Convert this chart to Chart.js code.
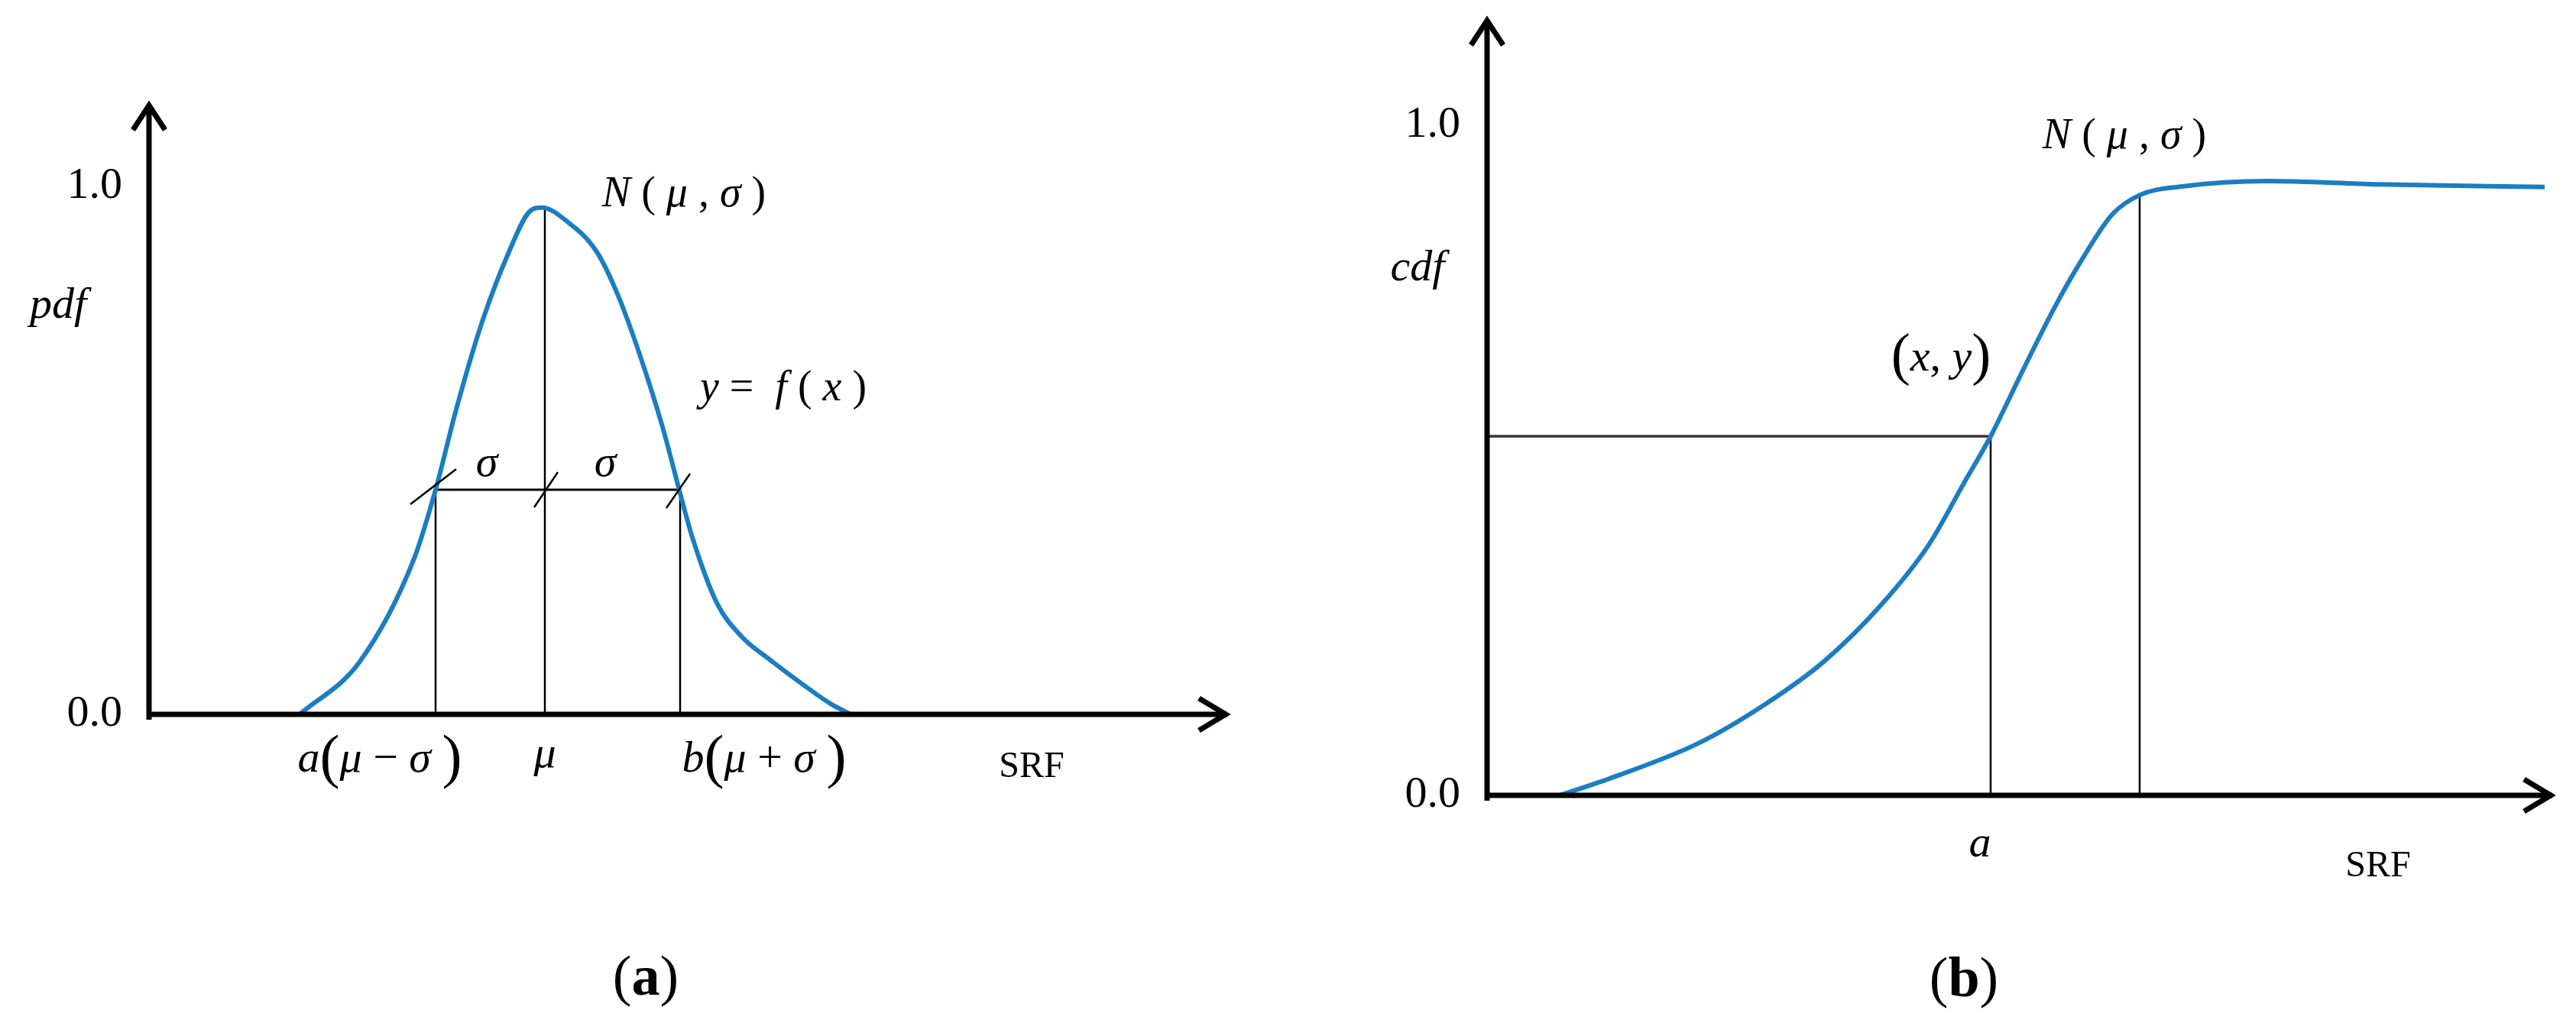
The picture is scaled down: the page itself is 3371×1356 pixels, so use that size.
<!DOCTYPE html>
<html>
<head>
<meta charset="utf-8">
<script src="https://cdn.jsdelivr.net/npm/chart.js@4.4.1/dist/chart.umd.min.js"></script>
<style>
html, body { margin: 0; padding: 0; background: #fff; }
#wrap { position: relative; width: 3371px; height: 1356px; }
canvas { position: absolute; top: 0; }
#pdfChart { left: 0; }
#cdfChart { left: 1685px; }
</style>
</head>
<body>
<div id="wrap">
  <canvas id="pdfChart" width="1685" height="1356"></canvas>
  <canvas id="cdfChart" width="1686" height="1356"></canvas>
</div>
<script>
// (a) probability density, SRF in arbitrary units
const pdfX = [1.97, 2.76, 3.47, 3.75, 4.02, 4.36, 4.71, 4.97, 5.14, 5.46, 5.86, 6.14, 6.43, 6.72, 6.94, 7.11, 7.43, 7.77, 8.12, 8.58, 8.92, 9.18];
const pdfY = [0.0, 0.10, 0.295, 0.425, 0.577, 0.743, 0.875, 0.950, 0.959, 0.934, 0.875, 0.792, 0.677, 0.544, 0.424, 0.335, 0.211, 0.145, 0.104, 0.054, 0.020, 0.0];

// (b) cumulative distribution
const cdfX = [0.95, 1.60, 2.77, 3.64, 4.41, 5.17, 5.78, 6.24, 6.59, 7.01, 7.42, 7.77, 8.18, 8.54, 9.10, 10.22, 11.65, 13.84];
const cdfY = [0.0, 0.025, 0.078, 0.136, 0.200, 0.286, 0.374, 0.466, 0.536, 0.634, 0.727, 0.797, 0.867, 0.896, 0.909, 0.917, 0.912, 0.908];

// guide lines: a, mu, b on (a); a and N on (b)
const pdfMarks = [3.75, 5.18, 6.95];
const pdfSigmaLevel = 0.425;
const pdfPeak = 0.954;
const cdfMarks = [6.59, 8.54];
const cdfLevels = [0.536, 0.896];

const yTicks = [0, 1];

const SERIF = '"Liberation Serif", "Times New Roman", serif';
const BLUE = '#1b7dc2';

function pts(xs, ys) {
  return xs.map((x, i) => ({ x: x, y: ys[i] }));
}

function curve(p) {
  return { data: p, showLine: true, borderColor: BLUE, borderWidth: 6, pointRadius: 0, cubicInterpolationMode: 'monotone' };
}

function guide(p, color, width) {
  return { data: p, showLine: true, borderColor: color, borderWidth: width, pointRadius: 0, tension: 0 };
}

// draws mixed italic / upright runs centred on (x, y)
function drawRich(ctx, x, y, parts, size) {
  let total = 0;
  const items = parts.map(p => {
    const s = size * (p[2] || 1);
    const font = (p[1] === 'i' ? 'italic ' : p[1] === 'b' ? 'bold ' : '') + s + 'px ' + SERIF;
    ctx.font = font;
    const w = ctx.measureText(p[0]).width;
    total += w;
    return { t: p[0], font: font, w: w };
  });
  let cx = x - total / 2;
  ctx.textAlign = 'left';
  ctx.textBaseline = 'middle';
  ctx.fillStyle = '#000';
  items.forEach(it => {
    ctx.font = it.font;
    ctx.fillText(it.t, cx, y);
    cx += it.w;
  });
}

const decor = {
  id: 'decor',
  afterDatasetsDraw(chart, args, opts) {
    const ctx = chart.ctx;
    const xs = chart.scales.x, ys = chart.scales.y;
    const x0 = xs.getPixelForValue(0), y0 = ys.getPixelForValue(0);
    const x1 = xs.getPixelForValue(xs.max), y1 = ys.getPixelForValue(ys.max);
    ctx.save();
    ctx.strokeStyle = '#000';
    ctx.lineWidth = 7;
    ctx.lineCap = 'butt';
    ctx.beginPath();
    ctx.moveTo(x0, y0 + 7);
    ctx.lineTo(x0, y1 + 3);
    ctx.moveTo(x0 - 3.5, y0);
    ctx.lineTo(x1 - 3, y0);
    ctx.stroke();
    ctx.lineJoin = 'miter';
    ctx.beginPath();
    ctx.moveTo(x0 - 21, y1 + 36);
    ctx.lineTo(x0, y1 + 4);
    ctx.lineTo(x0 + 21, y1 + 36);
    ctx.moveTo(x1 - 40, y0 - 21);
    ctx.lineTo(x1 - 5, y0);
    ctx.lineTo(x1 - 40, y0 + 21);
    ctx.stroke();

    // little slashes marking the sigma interval
    ctx.lineWidth = 2.5;
    (opts.slashes || []).forEach(s => {
      const px = xs.getPixelForValue(s.x), py = ys.getPixelForValue(s.y);
      ctx.beginPath();
      ctx.moveTo(px + s.d[0], py + s.d[1]);
      ctx.lineTo(px + s.d[2], py + s.d[3]);
      ctx.stroke();
    });

    (opts.labels || []).forEach(l => {
      drawRich(ctx, xs.getPixelForValue(l.x), ys.getPixelForValue(l.y), l.parts, l.size);
    });
    ctx.restore();
  }
};

function yScale(max) {
  return {
    min: 0,
    max: max,
    grid: { display: false, drawTicks: false },
    border: { display: false },
    afterBuildTicks: s => { s.ticks = yTicks.map(v => ({ value: v })); },
    afterFit: s => { s.width = 160; s.paddingTop = 0; s.paddingBottom = 0; },
    ticks: {
      padding: 35,
      color: '#000',
      font: { family: SERIF, size: 58 },
      callback: v => v.toFixed(1)
    }
  };
}

function baseOptions(xMax, yMax, padding, decorOpts) {
  return {
    responsive: false,
    animation: false,
    layout: { padding: padding },
    plugins: { legend: { display: false }, tooltip: { enabled: false }, decor: decorOpts },
    scales: {
      x: { type: 'linear', min: 0, max: xMax, display: false },
      y: yScale(yMax)
    }
  };
}

const a = pdfMarks[0], mu = pdfMarks[1], b = pdfMarks[2];

new Chart(document.getElementById('pdfChart'), {
  type: 'scatter',
  plugins: [decor],
  data: {
    datasets: [
      curve(pts(pdfX, pdfY)),
      guide([{ x: a, y: 0 }, { x: a, y: pdfSigmaLevel }], '#000', 2.5),
      guide([{ x: mu, y: 0 }, { x: mu, y: pdfPeak }], '#000', 2.5),
      guide([{ x: b, y: 0 }, { x: b, y: pdfSigmaLevel }], '#000', 2.5),
      guide([{ x: a, y: pdfSigmaLevel }, { x: b, y: pdfSigmaLevel }], '#000', 3)
    ]
  },
  options: baseOptions(14.14, 1.158, { left: 35, right: 76, top: 134, bottom: 421 }, {
    slashes: [
      { x: a, y: pdfSigmaLevel, d: [-33, 19, 27, -27] },
      { x: mu, y: pdfSigmaLevel, d: [-14, 23, 17, -23] },
      { x: b, y: pdfSigmaLevel, d: [-18, 24, 13, -21] }
    ],
    labels: [
      { x: -1.19, y: 0.772, size: 58, parts: [['pdf', 'i']] },
      { x: 7.00, y: 0.983, size: 56, parts: [['N', 'i'], [' ( ', 'n'], ['μ', 'i'], [' , ', 'n'], ['σ', 'i'], [' )', 'n']] },
      { x: 8.30, y: 0.615, size: 56, parts: [['y', 'i'], [' =  ', 'n'], ['f', 'i'], [' ( ', 'n'], ['x', 'i'], [' )', 'n']] },
      { x: 4.42, y: 0.473, size: 58, parts: [['σ', 'i']] },
      { x: 5.97, y: 0.473, size: 58, parts: [['σ', 'i']] },
      { x: 3.02, y: -0.087, size: 58, parts: [['a', 'i'], ['(', 'n', 1.35], ['μ', 'i'], [' − ', 'n'], ['σ', 'i'], [' ', 'n'], [')', 'n', 1.35]] },
      { x: mu, y: -0.078, size: 58, parts: [['μ', 'i']] },
      { x: 8.05, y: -0.087, size: 58, parts: [['b', 'i'], ['(', 'n', 1.35], ['μ', 'i'], [' + ', 'n'], ['σ', 'i'], [' ', 'n'], [')', 'n', 1.35]] },
      { x: 11.55, y: -0.100, size: 48, parts: [['SRF', 'n']] },
      { x: 6.50, y: -0.503, size: 74, parts: [['(', 'n'], ['a', 'b'], [')', 'n']] }
    ]
  })
});

new Chart(document.getElementById('cdfChart'), {
  type: 'scatter',
  plugins: [decor],
  data: {
    datasets: [
      curve(pts(cdfX, cdfY)),
      guide([{ x: cdfMarks[0], y: 0 }, { x: cdfMarks[0], y: cdfLevels[0] }], '#000', 2.5),
      guide([{ x: 0, y: cdfLevels[0] }, { x: cdfMarks[0], y: cdfLevels[0] }], '#333', 3.5),
      guide([{ x: cdfMarks[1], y: 0 }, { x: cdfMarks[1], y: cdfLevels[1] }], '#000', 2.5)
    ]
  },
  options: baseOptions(13.97, 1.161, { left: 101, right: 28, top: 23, bottom: 315 }, {
    labels: [
      { x: -0.91, y: 0.786, size: 58, parts: [['cdf', 'i']] },
      { x: 8.34, y: 0.983, size: 56, parts: [['N', 'i'], [' ( ', 'n'], ['μ', 'i'], [' , ', 'n'], ['σ', 'i'], [' )', 'n']] },
      { x: 5.94, y: 0.652, size: 58, parts: [['(', 'n', 1.3], ['x', 'i'], [', ', 'n'], ['y', 'i'], [')', 'n', 1.3]] },
      { x: 6.45, y: -0.074, size: 58, parts: [['a', 'i']] },
      { x: 11.66, y: -0.106, size: 48, parts: [['SRF', 'n']] },
      { x: 6.24, y: -0.278, size: 74, parts: [['(', 'n'], ['b', 'b'], [')', 'n']] }
    ]
  })
});
</script>
</body>
</html>
